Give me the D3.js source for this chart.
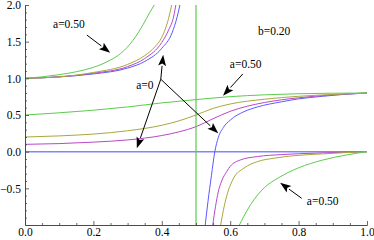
<!DOCTYPE html>
<html>
<head>
<meta charset="utf-8">
<script src="https://cdn.jsdelivr.net/npm/d3@7"></script>
<style>
  body { margin: 0; background: #fff; }
  svg { display: block; }
  text { font-family: "Liberation Serif", "DejaVu Serif", serif; }
</style>
</head>
<body>
<svg id="chart" width="374" height="240"></svg>
<script>
// values, [x, y]
// upper branch (starts at 1, blows up before x = 0.5)
const upperA0   = [[0,1],[0.1,1.02],[0.2,1.06],[0.3,1.14],[0.35,1.23],[0.4,1.41],[0.43,1.62],[0.445,1.84],[0.453,2.0]];
const upperA10  = [[0,1],[0.1,1.02],[0.2,1.07],[0.3,1.16],[0.35,1.27],[0.4,1.49],[0.42,1.66],[0.435,1.85],[0.441,2.0]];
const upperA20  = [[0,1],[0.1,1.02],[0.2,1.08],[0.3,1.19],[0.35,1.31],[0.38,1.43],[0.4,1.56],[0.42,1.82],[0.429,2.0]];
const upperA50  = [[0,1],[0.05,1.02],[0.1,1.05],[0.15,1.09],[0.2,1.15],[0.25,1.25],[0.28,1.34],[0.316,1.52],[0.345,1.73],[0.365,1.9],[0.378,2.0]];

// middle branch (ends at 1 - b = 0.8)
const middleA0  = [[0.527,-1.0],[0.535,-0.68],[0.545,-0.33],[0.555,0],[0.565,0.19],[0.58,0.33],[0.6,0.43],[0.64,0.545],[0.68,0.61],[0.75,0.68],[0.8,0.72],[0.87,0.755],[0.93,0.78],[1,0.8]];
const middleA10 = [[0,0.1],[0.1,0.11],[0.2,0.13],[0.3,0.16],[0.4,0.22],[0.45,0.27],[0.5,0.34],[0.55,0.45],[0.6,0.55],[0.65,0.62],[0.7,0.67],[0.8,0.735],[0.9,0.775],[1,0.8]];
const middleA20 = [[0,0.2],[0.1,0.215],[0.2,0.24],[0.3,0.285],[0.4,0.36],[0.45,0.42],[0.5,0.5],[0.55,0.59],[0.6,0.65],[0.7,0.715],[0.8,0.755],[0.9,0.78],[1,0.8]];
const middleA50 = [[0,0.5],[0.1,0.53],[0.2,0.565],[0.3,0.61],[0.4,0.665],[0.5,0.71],[0.6,0.75],[0.7,0.775],[0.8,0.79],[0.9,0.797],[1,0.8]];

// lower branch (ends at 0)
const lowerA0   = [[0,0],[1,0]];
const lowerA10  = [[0.549,-1],[0.557,-0.75],[0.565,-0.55],[0.575,-0.4],[0.59,-0.27],[0.6,-0.2],[0.63,-0.113],[0.68,-0.066],[0.75,-0.04],[0.85,-0.02],[1,0]];
const lowerA20  = [[0.572,-1],[0.58,-0.8],[0.59,-0.6],[0.6,-0.46],[0.61,-0.36],[0.64,-0.225],[0.68,-0.135],[0.73,-0.088],[0.78,-0.058],[0.87,-0.03],[1,0]];
const lowerA50  = [[0.627,-1],[0.64,-0.88],[0.66,-0.72],[0.7,-0.49],[0.74,-0.36],[0.8,-0.22],[0.87,-0.115],[0.94,-0.045],[1,0]];

const asymptoteX = 0.5;
const xTicks = [0, 0.2, 0.4, 0.6, 0.8, 1.0];
const yTicks = [-0.5, 0, 0.5, 1.0, 1.5, 2.0];

// labels and arrows, in data units
const labels = [
    {text: "a=0.50", x: 0.082, y: 1.69},
    {text: "b=0.20", x: 0.681, y: 1.59},
    {text: "a=0.50", x: 0.599, y: 1.14},
    {text: "a=0",    x: 0.325, y: 0.855},
    {text: "a=0.50", x: 0.824, y: -0.727}
];
const arrows = [
    [0.181, 1.59, 0.249, 1.35],
    [0.637, 1.06, 0.579, 0.764],
    [0.397, 0.988, 0.404, 1.32],
    [0.397, 0.988, 0.327, 0.046],
    [0.397, 0.988, 0.565, 0.25],
    [0.809, -0.636, 0.746, -0.423]
];

const colors = {a0: "#5a5aff", a10: "#b848c8", a20: "#a8a83c", a50: "#5ccc4c"};

const svg = d3.select("#chart");
const x = d3.scaleLinear().domain([0, 1]).range([25, 367]);
const y = d3.scaleLinear().domain([-1, 2]).range([225, 5]);

svg.append("clipPath").attr("id", "plotClip")
    .append("rect")
    .attr("x", x(0)).attr("y", y(2))
    .attr("width", x(1) - x(0)).attr("height", y(-1) - y(2));

const plot = svg.append("g").attr("clip-path", "url(#plotClip)");

const line = d3.line()
    .x(d => x(d[0]))
    .y(d => y(d[1]))
    .curve(d3.curveMonotoneX);

// zero line drawn first (a=0 lower branch)
plot.append("path")
    .attr("d", line(lowerA0))
    .attr("fill", "none")
    .attr("stroke", "#8484ff")
    .attr("stroke-width", 1.5);

const series = [
    [upperA0, colors.a0], [upperA10, colors.a10], [upperA20, colors.a20], [upperA50, colors.a50],
    [middleA0, colors.a0], [middleA10, colors.a10], [middleA20, colors.a20], [middleA50, colors.a50],
    [lowerA10, colors.a10], [lowerA20, colors.a20], [lowerA50, colors.a50]
];

plot.selectAll(".curve")
    .data(series)
    .enter().append("path")
    .attr("class", "curve")
    .attr("d", d => line(d[0]))
    .attr("fill", "none")
    .attr("stroke", d => d[1])
    .attr("stroke-width", 1);

// asymptote
plot.append("line")
    .attr("x1", x(asymptoteX)).attr("x2", x(asymptoteX))
    .attr("y1", y(2)).attr("y2", y(-1))
    .attr("stroke", colors.a50)
    .attr("stroke-width", 1.2);

// axes (ticks point inward, Mathematica style)
const fmt = d3.format(".1f");
const minorX = d3.range(0, 1.0001, 0.05).filter(v => Math.abs(v * 5 - Math.round(v * 5)) > 1e-6);
const minorY = d3.range(-1, 2.0001, 0.1).filter(v => Math.abs(v * 2 - Math.round(v * 2)) > 1e-6);

function styleAxis(g) {
    g.attr("font-family", null);
    g.selectAll("path, line").attr("stroke", "#444").attr("stroke-width", 0.8);
    g.selectAll("text").attr("fill", "#000").style("font-size", "11.5px")
        .style("font-family", '"Liberation Serif", serif');
}

svg.append("g")
    .attr("transform", `translate(0,${y(-1)})`)
    .call(d3.axisBottom(x).tickValues(minorX).tickSize(-2).tickSizeOuter(0).tickFormat(""))
    .call(styleAxis);
svg.append("g")
    .attr("transform", `translate(0,${y(-1)})`)
    .call(d3.axisBottom(x).tickValues(xTicks).tickSize(-4).tickSizeOuter(0).tickPadding(3).tickFormat(fmt))
    .call(styleAxis);

svg.append("g")
    .attr("transform", `translate(${x(0)},0)`)
    .call(d3.axisLeft(y).tickValues(minorY).tickSize(-2).tickSizeOuter(0).tickFormat(""))
    .call(styleAxis);
svg.append("g")
    .attr("transform", `translate(${x(0)},0)`)
    .call(d3.axisLeft(y).tickValues(yTicks).tickSize(-4).tickSizeOuter(0).tickPadding(4).tickFormat(fmt))
    .call(styleAxis);

// annotations
const note = svg.append("g");
note.selectAll("text")
    .data(labels)
    .enter().append("text")
    .attr("x", d => x(d.x))
    .attr("y", d => y(d.y))
    .style("font-size", "11.5px")
    .text(d => d.text);

arrows.forEach(a => {
    const x1 = x(a[0]), y1 = y(a[1]), x2 = x(a[2]), y2 = y(a[3]);
    const ang = Math.atan2(y2 - y1, x2 - x1);
    const len = 11, half = 4;
    const bx = x2 - len * Math.cos(ang), by = y2 - len * Math.sin(ang);
    note.append("line")
        .attr("x1", x1).attr("y1", y1).attr("x2", bx).attr("y2", by)
        .attr("stroke", "#000").attr("stroke-width", 1);
    const pts = [
        [x2, y2],
        [bx + half * Math.sin(ang), by - half * Math.cos(ang)],
        [x2 - 0.8 * len * Math.cos(ang), y2 - 0.8 * len * Math.sin(ang)],
        [bx - half * Math.sin(ang), by + half * Math.cos(ang)]
    ];
    note.append("polygon")
        .attr("points", pts.map(p => p.join(",")).join(" "))
        .attr("fill", "#000");
});
</script>
</body>
</html>
